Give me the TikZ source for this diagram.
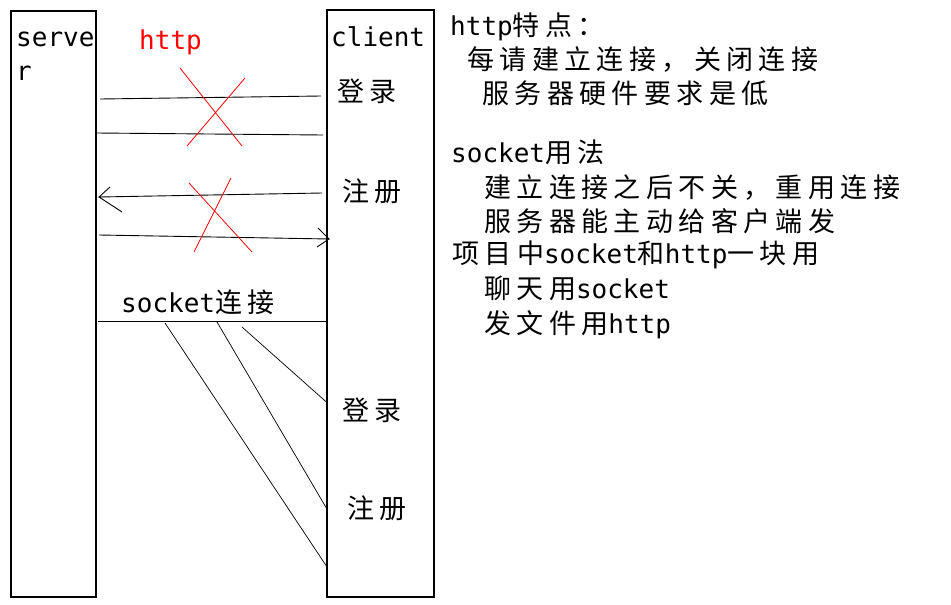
\documentclass[tikz,border=0pt]{standalone}
\usepackage{fontspec}
\setmonofont{DejaVu Sans Mono}
\newfontfamily\cjk[LetterSpace=20]{Noto Sans CJK SC}
\newcommand{\zh}[1]{{\cjk\fontsize{27}{34}\selectfont #1}}
\usetikzlibrary{positioning}

\tikzset{
  box/.style={draw, line width=1.3pt, inner sep=0pt},
  txt/.style={anchor=base west, inner sep=0pt},
  link/.style={line width=0.9pt},
  cross/.style={red, line width=0.8pt},
}

\begin{document}
\begin{tikzpicture}[x=1pt, y=-1pt, font=\ttfamily\fontsize{26}{34}\selectfont]
    \useasboundingbox (0,0) rectangle (951,605);
    % server and client columns
    \node[box, minimum width=85, minimum height=586] (server) at (53.5,304) {};
    \node[box, minimum width=107, minimum height=587] (client) at (380.5,303.5) {};
    \node[txt, align=left] (srvname) at (16,80) {serve\\r};
    \node[txt] (cliname) at (331,46) {client};
    \node[txt, red] (http) at (139,49) {http};

    % http: one connection per request
    \coordinate (req1a) at (100,99); \coordinate (req1b) at (321,96);
    \coordinate (res1a) at (96,133); \coordinate (res1b) at (323,135);
    \coordinate (req2a) at (99,197); \coordinate (req2b) at (322,193);
    \coordinate (res2a) at (99,235); \coordinate (res2b) at (329,239);
    \draw[link] (req1a) -- (req1b);
    \draw[link] (res1a) -- (res1b);
    \draw[link] (req2b) -- (req2a) -- ++(11,-10) (req2a) -- ++(23,15);
    \draw[link] (res2a) -- (res2b) -- ++(-11,-11) (res2b) -- ++(-12,8);
    \draw[cross] (180,68) -- (242,146) (245,78) -- (187,146);
    \draw[cross] (189,183) -- (252,252) (231,178) -- (194,252);
    \node[txt] (login1) at (337,101) {\zh{登录}};
    \node[txt] (reg1) at (342,201) {\zh{注册}};

    % socket: one connection kept open
    \node[txt] (sockname) at (121,312) {socket\zh{连接}};
    \coordinate (sock a) at (98,321); \coordinate (sock b) at (client.west |- 0,321);
    \draw[link] (sock a) -- (sock b);
    \foreach \sx/\sy/\ey in {165/323/566, 217/322/508, 242/327/402}
        \draw[line width=0.7pt] (\sx,\sy) -- (client.west |- 0,\ey);
    \node[txt] (login2) at (342,420) {\zh{登录}};
    \node[txt] (reg2) at (347,518) {\zh{注册}};

    % notes
    \node[txt] (hfeat) at (450,35) {http\zh{特点：}};
    \node[txt] (hline1) at (467,69) {\zh{每请建立连接，关闭连接}};
    \node[txt] (hline2) at (482,103) {\zh{服务器硬件要求是低}};
    \node[txt] (sfeat) at (451,162) {socket\zh{用法}};
    \node[txt] (sline1) at (484,197) {\zh{建立连接之后不关，重用连接}};
    \node[txt] (sline2) at (484,231) {\zh{服务器能主动给客户端发}};
    \node[txt] (proj) at (452,263) {\zh{项目中}socket\zh{和}http\zh{一块用}};
    \node[txt] (pline1) at (484,298) {\zh{聊天用}socket};
    \node[txt] (pline2) at (484,333) {\zh{发文件用}http};
\end{tikzpicture}
\end{document}
